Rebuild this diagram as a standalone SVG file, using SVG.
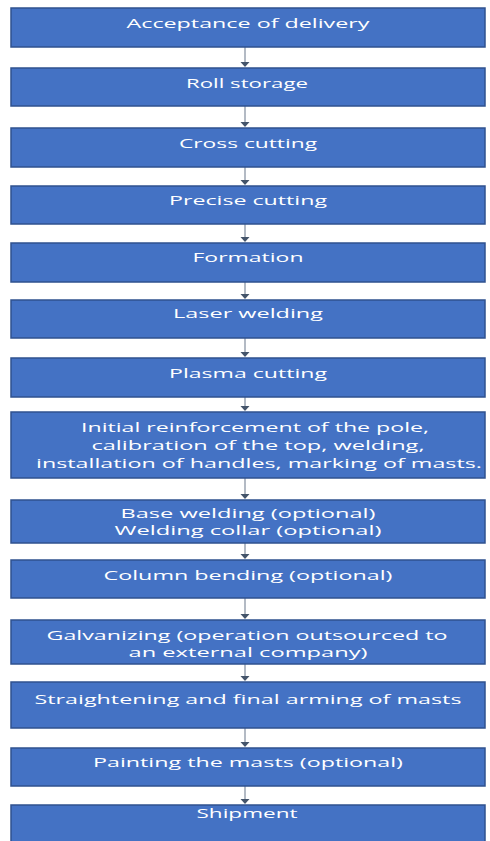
<svg xmlns="http://www.w3.org/2000/svg" width="490" height="841" viewBox="0 0 490 841">
<defs>
<style>
.box{fill:#4472C4;stroke:#2F528F;stroke-width:1.5}
.t{fill:#ffffff;font-family:"Open Sans","Liberation Sans",sans-serif;font-size:13px;text-anchor:middle}
.ln{stroke:#9AA3B0;stroke-width:1.5;fill:none}
.ah{fill:#44546A}
</style>
</defs>
<rect width="490" height="841" fill="#ffffff"/>
<g id="connectors">
<line class="ln" x1="245" y1="47" x2="245" y2="63"/><polygon class="ah" points="240.5,62 249.5,62 245,67"/>
<line class="ln" x1="245" y1="106" x2="245" y2="123"/><polygon class="ah" points="240.5,122 249.5,122 245,127"/>
<line class="ln" x1="245" y1="167" x2="245" y2="181"/><polygon class="ah" points="240.5,180 249.5,180 245,185"/>
<line class="ln" x1="245" y1="224" x2="245" y2="238"/><polygon class="ah" points="240.5,237 249.5,237 245,242"/>
<line class="ln" x1="245" y1="282" x2="245" y2="295"/><polygon class="ah" points="240.5,294 249.5,294 245,299"/>
<line class="ln" x1="245" y1="338" x2="245" y2="353"/><polygon class="ah" points="240.5,352 249.5,352 245,357"/>
<line class="ln" x1="245" y1="397" x2="245" y2="407"/><polygon class="ah" points="240.5,406 249.5,406 245,411"/>
<line class="ln" x1="245" y1="478" x2="245" y2="495"/><polygon class="ah" points="240.5,494 249.5,494 245,499"/>
<line class="ln" x1="245" y1="543" x2="245" y2="555"/><polygon class="ah" points="240.5,554 249.5,554 245,559"/>
<line class="ln" x1="245" y1="598" x2="245" y2="615"/><polygon class="ah" points="240.5,614 249.5,614 245,619"/>
<line class="ln" x1="245" y1="664" x2="245" y2="677"/><polygon class="ah" points="240.5,676 249.5,676 245,681"/>
<line class="ln" x1="245" y1="728" x2="245" y2="743"/><polygon class="ah" points="240.5,742 249.5,742 245,747"/>
<line class="ln" x1="245" y1="786" x2="245" y2="800"/><polygon class="ah" points="240.5,799 249.5,799 245,804"/>
</g>
<g id="n1"><rect class="box" x="11" y="8" width="474" height="39"/><text class="t" x="248" y="28" textLength="243" lengthAdjust="spacingAndGlyphs">Acceptance of delivery</text></g>
<g id="n2"><rect class="box" x="11" y="68" width="474" height="38"/><text class="t" x="247" y="88" textLength="122" lengthAdjust="spacingAndGlyphs">Roll storage</text></g>
<g id="n3"><rect class="box" x="11" y="128" width="474" height="39"/><text class="t" x="248" y="148" textLength="138" lengthAdjust="spacingAndGlyphs">Cross cutting</text></g>
<g id="n4"><rect class="box" x="11" y="186" width="474" height="38"/><text class="t" x="248" y="205" textLength="158" lengthAdjust="spacingAndGlyphs">Precise cutting</text></g>
<g id="n5"><rect class="box" x="11" y="243" width="474" height="39"/><text class="t" x="248" y="262" textLength="111" lengthAdjust="spacingAndGlyphs">Formation</text></g>
<g id="n6"><rect class="box" x="11" y="300" width="474" height="38"/><text class="t" x="248" y="318" textLength="150" lengthAdjust="spacingAndGlyphs">Laser welding</text></g>
<g id="n7"><rect class="box" x="11" y="358" width="474" height="39"/><text class="t" x="248" y="378" textLength="158" lengthAdjust="spacingAndGlyphs">Plasma cutting</text></g>
<g id="n8"><rect class="box" x="11" y="412" width="474" height="66"/>
<text class="t" x="255" y="432" textLength="348" lengthAdjust="spacingAndGlyphs">Initial reinforcement of the pole,</text>
<text class="t" x="258" y="450" textLength="333" lengthAdjust="spacingAndGlyphs">calibration of the top, welding,</text>
<text class="t" x="259" y="468" textLength="446" lengthAdjust="spacingAndGlyphs">installation of handles, marking of masts.</text></g>
<g id="n9"><rect class="box" x="11" y="500" width="474" height="43"/>
<text class="t" x="248" y="518" textLength="255" lengthAdjust="spacingAndGlyphs">Base welding (optional)</text>
<text class="t" x="248" y="535" textLength="267" lengthAdjust="spacingAndGlyphs">Welding collar (optional)</text></g>
<g id="n10"><rect class="box" x="11" y="560" width="474" height="38"/><text class="t" x="248" y="580" textLength="289" lengthAdjust="spacingAndGlyphs">Column bending (optional)</text></g>
<g id="n11"><rect class="box" x="11" y="620" width="474" height="44"/>
<text class="t" x="247" y="640" textLength="401" lengthAdjust="spacingAndGlyphs">Galvanizing (operation outsourced to</text>
<text class="t" x="248" y="657" textLength="239" lengthAdjust="spacingAndGlyphs">an external company)</text></g>
<g id="n12"><rect class="box" x="11" y="682" width="474" height="46"/><text class="t" x="248" y="704" textLength="427" lengthAdjust="spacingAndGlyphs">Straightening and final arming of masts</text></g>
<g id="n13"><rect class="box" x="11" y="748" width="474" height="38"/><text class="t" x="248" y="767" textLength="310" lengthAdjust="spacingAndGlyphs">Painting the masts (optional)</text></g>
<g id="n14"><rect class="box" x="11" y="805" width="474" height="40"/><text class="t" x="247" y="818" textLength="101" lengthAdjust="spacingAndGlyphs">Shipment</text></g>
</svg>
